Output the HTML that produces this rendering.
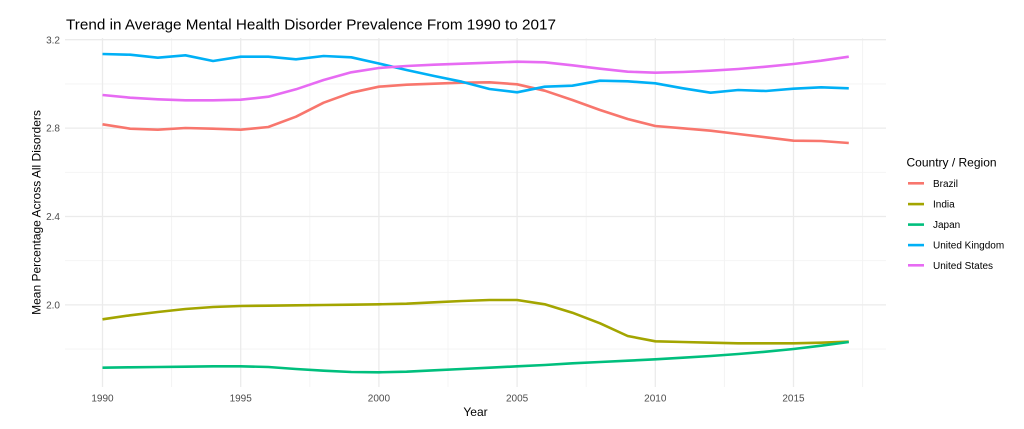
<!DOCTYPE html>
<html>
<head>
<meta charset="utf-8">
<style>
  html, body { margin: 0; padding: 0; background: #ffffff; }
  body { width: 1024px; height: 429px; overflow: hidden; }
  svg { display: block; font-family: "Liberation Sans", "DejaVu Sans", sans-serif; }
</style>
</head>
<body>
<svg width="1024" height="429" viewBox="0 0 1024 429" xmlns="http://www.w3.org/2000/svg">
  <rect x="0" y="0" width="1024" height="429" fill="#ffffff"/>

  <!-- minor gridlines -->
  <g stroke="#f3f3f3" stroke-width="0.9" fill="none">
    <line x1="65" y1="83.9" x2="886" y2="83.9"/>
    <line x1="65" y1="172.3" x2="886" y2="172.3"/>
    <line x1="65" y1="260.7" x2="886" y2="260.7"/>
    <line x1="65" y1="349.1" x2="886" y2="349.1"/>
    <line x1="171.6" y1="38" x2="171.6" y2="387"/>
    <line x1="309.8" y1="38" x2="309.8" y2="387"/>
    <line x1="448" y1="38" x2="448" y2="387"/>
    <line x1="586.2" y1="38" x2="586.2" y2="387"/>
    <line x1="724.4" y1="38" x2="724.4" y2="387"/>
    <line x1="862.6" y1="38" x2="862.6" y2="387"/>
  </g>
  <!-- major gridlines -->
  <g stroke="#ebebeb" stroke-width="1.3" fill="none">
    <line x1="65" y1="39.7" x2="886" y2="39.7"/>
    <line x1="65" y1="128.1" x2="886" y2="128.1"/>
    <line x1="65" y1="216.5" x2="886" y2="216.5"/>
    <line x1="65" y1="304.9" x2="886" y2="304.9"/>
    <line x1="102.5" y1="38" x2="102.5" y2="387"/>
    <line x1="240.7" y1="38" x2="240.7" y2="387"/>
    <line x1="378.9" y1="38" x2="378.9" y2="387"/>
    <line x1="517.1" y1="38" x2="517.1" y2="387"/>
    <line x1="655.3" y1="38" x2="655.3" y2="387"/>
    <line x1="793.5" y1="38" x2="793.5" y2="387"/>
  </g>

  <!-- series -->
  <g fill="none" stroke-width="2.6" stroke-linejoin="round" stroke-linecap="butt">
    <!-- Brazil -->
    <polyline stroke="#F8766D" points="102.5,124.3 130.14,128.7 157.78,129.7 185.42,128 213.06,128.7 240.7,129.7 268.34,127 295.98,116.7 323.62,102.7 351.26,92.7 378.9,86.7 406.54,84.7 434.18,83.7 461.82,82.7 489.46,82.3 517.1,84.3 544.74,90.7 572.38,100 600.02,110 627.66,119 655.3,126 682.94,128.3 710.58,130.7 738.22,134 765.86,137.3 793.5,140.7 821.14,141 848.78,143"/>
    <!-- India -->
    <polyline stroke="#A3A500" points="102.5,319.3 130.14,315.3 157.78,312 185.42,309 213.06,307 240.7,306 268.34,305.7 295.98,305.3 323.62,305 351.26,304.7 378.9,304.3 406.54,303.7 434.18,302.3 461.82,301 489.46,300 517.1,300 544.74,304.3 572.38,312.7 600.02,323.3 627.66,336 655.3,341.3 682.94,342 710.58,342.7 738.22,343.3 765.86,343.3 793.5,343.3 821.14,342.7 848.78,341.7"/>
    <!-- Japan -->
    <polyline stroke="#00BF7D" points="102.5,367.7 130.14,367.3 157.78,367 185.42,366.7 213.06,366.3 240.7,366.3 268.34,367 295.98,369 323.62,370.7 351.26,372 378.9,372.3 406.54,371.7 434.18,370.3 461.82,369 489.46,367.7 517.1,366.3 544.74,365 572.38,363.3 600.02,362 627.66,360.7 655.3,359.3 682.94,357.7 710.58,356 738.22,354 765.86,351.7 793.5,349 821.14,345.7 848.78,342"/>
    <!-- United Kingdom -->
    <polyline stroke="#00B0F6" points="102.5,54 130.14,54.7 157.78,57.7 185.42,55.3 213.06,61 240.7,56.7 268.34,56.7 295.98,59.3 323.62,56 351.26,57.3 378.9,63.5 406.54,70 434.18,76 461.82,81.7 489.46,89 517.1,92.3 544.74,86.7 572.38,85.7 600.02,80.7 627.66,81.3 655.3,83.3 682.94,88.3 710.58,92.7 738.22,90 765.86,91 793.5,88.7 821.14,87.3 848.78,88.3"/>
    <!-- United States -->
    <polyline stroke="#E76BF3" points="102.5,95 130.14,97.7 157.78,99.3 185.42,100.3 213.06,100.3 240.7,99.7 268.34,96.7 295.98,89.3 323.62,80 351.26,72.3 378.9,68 406.54,66 434.18,64.7 461.82,63.7 489.46,62.7 517.1,61.7 544.74,62.3 572.38,65.3 600.02,68.7 627.66,71.7 655.3,72.7 682.94,72 710.58,70.7 738.22,69 765.86,66.7 793.5,64 821.14,60.7 848.78,56.7"/>
  </g>

  <!-- title -->
  <text x="66" y="29.5" font-size="15" fill="#000000" textLength="490" lengthAdjust="spacingAndGlyphs">Trend in Average Mental Health Disorder Prevalence From 1990 to 2017</text>

  <!-- y tick labels -->
  <g font-size="10" fill="#4d4d4d" text-anchor="end">
    <text x="60" y="43.3">3.2</text>
    <text x="60" y="131.7">2.8</text>
    <text x="60" y="220.1">2.4</text>
    <text x="60" y="308.5">2.0</text>
  </g>

  <!-- x tick labels -->
  <g font-size="10" fill="#4d4d4d" text-anchor="middle">
    <text x="102.5" y="401.3">1990</text>
    <text x="240.7" y="401.3">1995</text>
    <text x="378.9" y="401.3">2000</text>
    <text x="517.1" y="401.3">2005</text>
    <text x="655.3" y="401.3">2010</text>
    <text x="793.5" y="401.3">2015</text>
  </g>

  <!-- axis titles -->
  <text x="475.5" y="416" font-size="12" fill="#000000" text-anchor="middle">Year</text>
  <text transform="translate(40.5,212.5) rotate(-90)" font-size="12" fill="#000000" text-anchor="middle">Mean Percentage Across All Disorders</text>

  <!-- legend -->
  <text x="906.5" y="166.3" font-size="12" fill="#000000">Country / Region</text>
  <g stroke-width="2.6" fill="none">
    <line x1="908" y1="183.3" x2="924" y2="183.3" stroke="#F8766D"/>
    <line x1="908" y1="204.1" x2="924" y2="204.1" stroke="#A3A500"/>
    <line x1="908" y1="224.6" x2="924" y2="224.6" stroke="#00BF7D"/>
    <line x1="908" y1="245.1" x2="924" y2="245.1" stroke="#00B0F6"/>
    <line x1="908" y1="265.3" x2="924" y2="265.3" stroke="#E76BF3"/>
  </g>
  <g font-size="10" fill="#000000">
    <text x="933" y="186.9">Brazil</text>
    <text x="933" y="207.7">India</text>
    <text x="933" y="228.2">Japan</text>
    <text x="933" y="248.7">United Kingdom</text>
    <text x="933" y="268.9">United States</text>
  </g>
</svg>
</body>
</html>
